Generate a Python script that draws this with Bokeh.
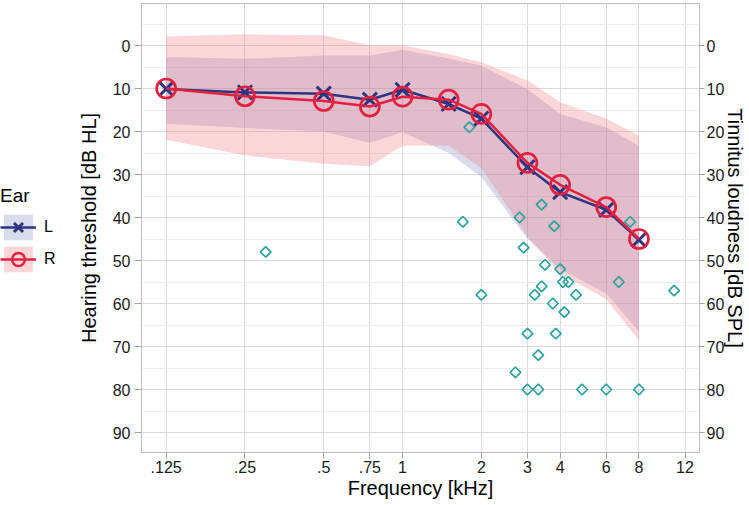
import numpy as np
from bokeh.plotting import figure
from bokeh.layouts import row
from bokeh.models import Range1d, FixedTicker, LinearAxis, Legend, LegendItem
from bokeh.embed import file_html
from bokeh.resources import INLINE

# ---- data ----
freq = [0.125, 0.25, 0.5, 0.75, 1, 1.5, 2, 3, 4, 6, 8]
L_mean = [10.1, 10.9, 11.2, 12.6, 10.3, 13.6, 17.0, 28.3, 34.1, 38.2, 45.2]
R_mean = [10.0, 11.8, 12.9, 14.2, 11.9, 12.6, 15.9, 27.3, 32.4, 37.6, 45.0]
L_upper = [2.7, 3.1, 2.3, 2.3, 1.0, 3.0, 4.7, 10.1, 15.9, 19.0, 23.3]
L_lower = [18.2, 19.2, 20.0, 22.7, 20.2, 25.0, 30.6, 45.0, 52.0, 57.7, 66.5]
R_upper = [-2.1, -2.6, -2.4, 0.0, 0.0, 2.0, 3.9, 8.1, 13.2, 17.0, 20.9]
R_lower = [21.9, 25.6, 27.5, 28.1, 23.3, 23.3, 28.5, 44.5, 53.0, 59.0, 68.6]

tin_freq = [0.3, 1.7, 1.8, 2.0, 2.7, 2.8, 2.9, 3.0, 3.0, 3.2, 3.3, 3.3, 3.4, 3.4,
            3.5, 3.75, 3.8, 3.85, 4.0, 4.1, 4.15, 4.3, 4.6, 4.85, 6.0, 6.7, 7.4, 8.0, 10.9]
tin_level = [48, 41, 19, 58, 76, 40, 47, 67, 80, 58, 72, 80, 37, 56,
             51, 60, 42, 67, 52, 55, 62, 55, 58, 80, 80, 55, 41, 80, 57]

ears = ["L", "R"]
x_ticks = [0.125, 0.25, 0.5, 0.75, 1, 2, 3, 4, 6, 8, 12]
x_tick_labels = [".125", ".25", ".5", ".75", "1", "2", "3", "4", "6", "8", "12"]
y_ticks = [0, 10, 20, 30, 40, 50, 60, 70, 80, 90]
y_minor = [-5, 5, 15, 25, 35, 45, 55, 65, 75, 85]

FONT = "Liberation Sans"
NAVY = "#2d3580"
RED = "#e3203f"
TEAL = "#2ea39d"
L_FILL = "#848ac0"
R_FILL = "#f27680"
BAND_ALPHA = 0.3

# ---------------- main plot ----------------
p = figure(width=689, height=505, x_axis_type="log",
           x_range=Range1d(0.1006, 13.63), y_range=Range1d(94.65, -9.77),
           output_backend="svg", toolbar_location=None,
           min_border_left=81, min_border_right=50, min_border_top=3, min_border_bottom=53)

p.background_fill_color = "white"
p.border_fill_color = "white"
p.outline_line_color = "#bdbdbd"
p.outline_line_width = 1

p.xgrid.ticker = FixedTicker(ticks=x_ticks)
p.xgrid.grid_line_color = "#dadada"
p.ygrid.ticker = FixedTicker(ticks=y_ticks, minor_ticks=y_minor)
p.ygrid.grid_line_color = "#dadada"
p.ygrid.minor_grid_line_color = "#ececec"

xa = p.xaxis[0]
xa.ticker = FixedTicker(ticks=x_ticks)
xa.major_label_overrides = {t: l for t, l in zip(x_ticks, x_tick_labels)}
xa.axis_label = "Frequency [kHz]"
ya = p.yaxis[0]
ya.ticker = FixedTicker(ticks=y_ticks)
ya.axis_label = "Hearing threshold [dB HL]"

ra = LinearAxis(ticker=FixedTicker(ticks=y_ticks), axis_label="Tinnitus loudness [dB SPL]")
p.add_layout(ra, "right")

for ax, tick_len in ((xa, 6), (ya, 7), (ra, 5)):
    ax.axis_line_color = None
    ax.major_tick_line_color = "#9e9e9e"
    ax.major_tick_out = tick_len
    ax.major_tick_in = 0
    ax.minor_tick_line_color = None
    ax.major_label_text_font = FONT
    ax.major_label_text_font_size = "16px"
    ax.major_label_text_color = "#1a1a1a"
    ax.axis_label_text_font = FONT
    ax.axis_label_text_font_size = "20px"
    ax.axis_label_text_font_style = "normal"
    ax.axis_label_text_color = "#000000"
xa.major_label_standoff = 2
xa.axis_label_standoff = 1
ya.major_label_standoff = 4
ya.axis_label_standoff = 10
ra.major_label_standoff = 2
ra.axis_label_standoff = -3

# bands
p.varea(x=freq, y1=L_upper, y2=L_lower, fill_color=L_FILL, fill_alpha=BAND_ALPHA)
p.varea(x=freq, y1=R_upper, y2=R_lower, fill_color=R_FILL, fill_alpha=BAND_ALPHA)

# tinnitus loudness points
p.scatter(x=tin_freq, y=tin_level, marker="square", angle=np.pi / 4, size=7.5,
          fill_color=None, line_color=TEAL, line_width=1.7)

# mean thresholds
p.line(freq, L_mean, line_color=NAVY, line_width=2.5)
p.scatter(freq, L_mean, marker="x", size=20, line_color=NAVY, line_width=3)
p.line(freq, R_mean, line_color=RED, line_width=2.5)
p.scatter(freq, R_mean, marker="circle", size=19, fill_color=None,
          line_color=RED, line_width=2.7)

# ---------------- legend panel ----------------
lg = figure(width=60, height=505, x_range=Range1d(0, 1), y_range=Range1d(0, 1),
            output_backend="svg", toolbar_location=None,
            x_axis_location=None, y_axis_location=None,
            min_border=0, outline_line_color=None)
lg.grid.visible = False

# key renderers (their data lie outside the visible range; they only feed the legend)
kx, ky = [2, 3], [2, 2]
kL = [lg.varea(x=kx, y1=ky, y2=[3, 3], fill_color=L_FILL, fill_alpha=BAND_ALPHA),
      lg.line(x=kx, y=ky, line_color=NAVY, line_width=2.5),
      lg.scatter(x=kx, y=ky, marker="x", line_color=NAVY, line_width=3)]
kR = [lg.varea(x=kx, y1=ky, y2=[3, 3], fill_color=R_FILL, fill_alpha=BAND_ALPHA),
      lg.line(x=kx, y=ky, line_color=RED, line_width=2.5),
      lg.scatter(x=kx, y=ky, marker="circle", fill_color=None, line_color=RED, line_width=2.5)]

legend = Legend(items=[LegendItem(label=ears[0], renderers=kL),
                       LegendItem(label=ears[1], renderers=kR)],
                title="Ear", location=(0, 177))
legend.title_text_font = FONT
legend.title_text_font_size = "19px"
legend.title_text_font_style = "normal"
legend.title_text_color = "#000000"
legend.label_text_font = FONT
legend.label_text_font_size = "16px"
legend.label_text_color = "#000000"
legend.glyph_width = 36
legend.glyph_height = 32
legend.spacing = 0
legend.padding = 0
legend.margin = 0
legend.title_standoff = 4
legend.background_fill_alpha = 0
legend.border_line_color = None
legend.label_standoff = 8
lg.add_layout(legend)

layout = row(lg, p)
open("out.html", "w").write(file_html(layout, INLINE))
